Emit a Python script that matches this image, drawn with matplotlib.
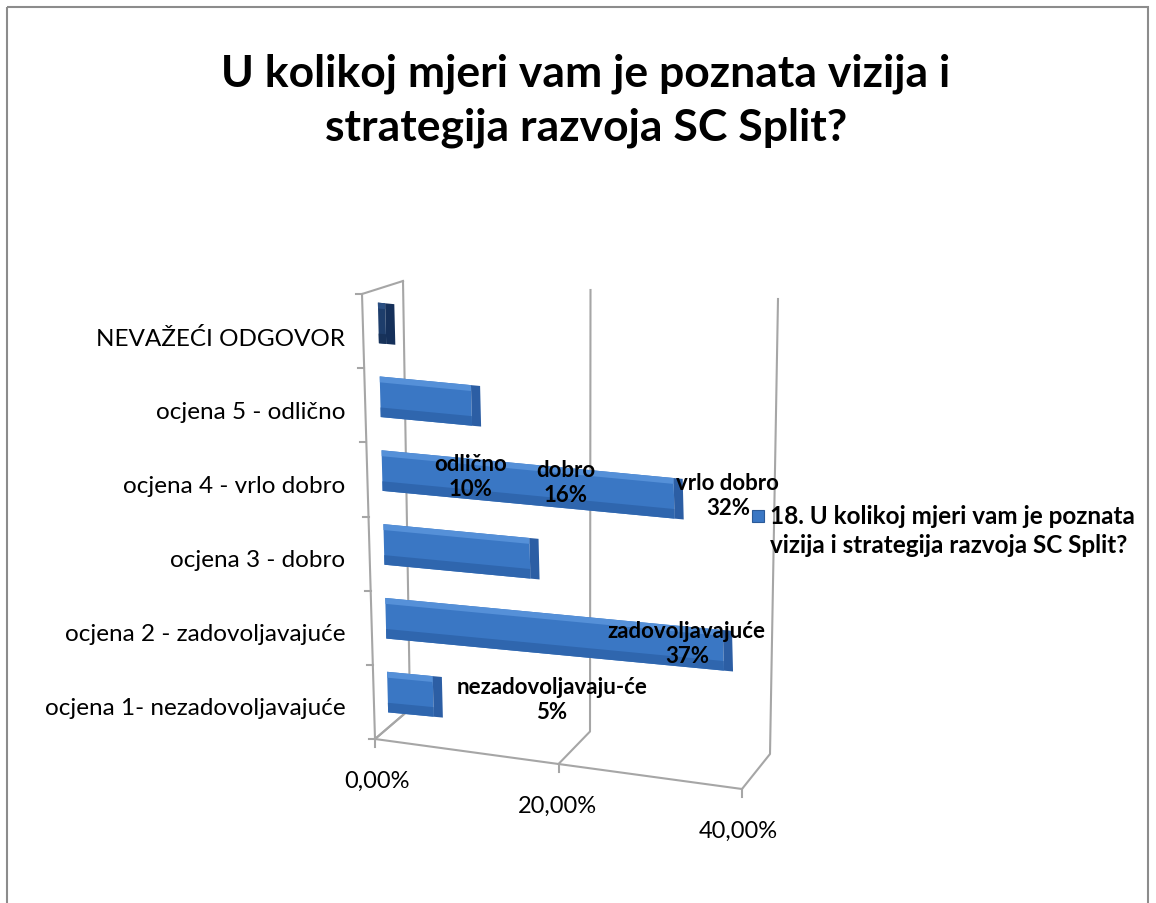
import math
import matplotlib
matplotlib.use("Agg")
import matplotlib.pyplot as plt
import matplotlib.transforms as mtransforms
from matplotlib.lines import Line2D
from matplotlib.patches import Rectangle

plt.rcParams['font.family'] = ['Lato', 'DejaVu Sans']

categories = ["ocjena 1- nezadovoljavajuće", "ocjena 2 - zadovoljavajuće", "ocjena 3 - dobro",
              "ocjena 4 - vrlo dobro", "ocjena 5 - odlično", "NEVAŽEĆI ODGOVOR"]
values = [5, 37, 16, 32, 10, 0.8]
label_names = ["nezadovoljavaju-će", "zadovoljavajuće", "dobro", "vrlo dobro", "odlično"]
label_values = ["5%", "37%", "16%", "32%", "10%"]
# spots where excel dropped the data labels (x in %, y in category units)
label_pos = [(18.5, 0.08), (33.3, 0.84), (20.0, 3.02), (37.8, 2.85), (9.6, 3.1)]
x_ticks = [0, 20, 40]
x_ticklabels = ["0,00%", "20,00%", "40,00%"]
title = "U kolikoj mjeri vam je poznata vizija i\nstrategija razvoja SC Split?"
series_name = "18. U kolikoj mjeri vam je poznata\nvizija i strategija razvoja SC Split?"

W, H = 1156, 904
fig = plt.figure(figsize=(W / 100, H / 100), dpi=100)
# pixel coordinates, y pointing down like the screenshot
px = mtransforms.Affine2D().scale(1 / W, -1 / H).translate(0, 1) + fig.transFigure

fig.add_artist(Rectangle((7, 8), 1141, 1000, transform=px, fill=False, ec='#8c8c8c', lw=1.5))
fig.text(586, 101, title, transform=px, ha='center', va='center', fontsize=32,
         fontweight='bold', linespacing=1.4)

left, right, top, bottom = 383, 748, 300, 743
ax = fig.add_axes([left / W, 1 - bottom / H, (right - left) / W, (bottom - top) / H])
ax.patch.set_visible(False)
for s in ax.spines.values():
    s.set_visible(False)
ax.set_xlim(0, 40)
ax.set_ylim(-0.5, 5.5)
ax.set_xticks([])
ax.set_yticks(range(len(categories)))
ax.set_yticklabels(categories, fontsize=17.5)
ax.tick_params(axis='y', length=0, pad=27)

# fake 3d box: back wall, floor and left axis
grey = '#a6a6a6'
def line(xs, ys):
    ax.add_line(Line2D(xs, ys, transform=px, color=grey, lw=1.5, clip_on=False, zorder=0))

line([362, 375], [295, 740])
for k in range(7):
    yy = 295 + k * (740 - 295) / 6
    xx = 362 + k * (375 - 362) / 6
    line([xx - 6, xx], [yy, yy])
line([362, 403], [295, 282])
line([375, 410], [740, 710])
line([375, 375 + 9.175 * 40], [740, 740 + 1.25 * 40])
for t, lab in zip(x_ticks, x_ticklabels):
    bx_top, by_top = 403 + 9.375 * t, 282 + 0.45 * t
    bx, by = 410 + 9.0 * t, 710 + 1.125 * t
    fx, fy = 375 + 9.175 * t, 740 + 1.25 * t
    line([bx_top, bx, fx], [by_top, by, fy])
    line([fx, fx], [fy, fy + 8])
    ax.text(fx + 2 - 0.15 * t, fy + 41, lab, transform=px, ha='center', va='center', fontsize=17)

# bars slant down to the right like excel's perspective view
x0 = left
y0 = H - (top + bottom) / 2
skew = (mtransforms.Affine2D().translate(-x0, -y0)
        .skew(math.atan(-0.025), math.atan(-0.095)).translate(x0, y0 + 13))
bar_tr = ax.transData + skew

ypos = list(range(len(values)))
n = 5
face = ['#3a77c4'] * n + ['#1d3d6b']
topc = ['#5590d8'] * n + ['#2a4f82']
botc = ['#2f66ae'] * n + ['#17325a']
endc = ['#2c5ea4'] * n + ['#15305a']
ax.barh(ypos, values, height=0.55, color=face, transform=bar_tr, clip_on=False, zorder=2)
ax.barh([y + 0.235 for y in ypos], values, height=0.08, color=topc,
        transform=bar_tr, clip_on=False, zorder=3)
ax.barh([y - 0.21 for y in ypos], values, height=0.13, color=botc,
        transform=bar_tr, clip_on=False, zorder=3)
# end face of the 3d bar
ax.barh(ypos, [1.0] * len(values), left=values, height=0.55,
        color=endc, transform=bar_tr, clip_on=False, zorder=3)

for (lx, ly), nm, v in zip(label_pos, label_names, label_values):
    ax.text(lx, ly, nm + "\n" + v, ha='center', va='center', fontsize=16,
            fontweight='bold', linespacing=1.25, zorder=5)

# legend
fig.add_artist(Rectangle((752, 511), 12, 12, transform=px, fc='#3a77c4', ec='#2a5a98', lw=0.8))
fig.text(770, 531, series_name, transform=px, ha='left', va='center', fontsize=17.5,
         fontweight='bold', linespacing=1.3)

fig.savefig("out.png", dpi=100)
